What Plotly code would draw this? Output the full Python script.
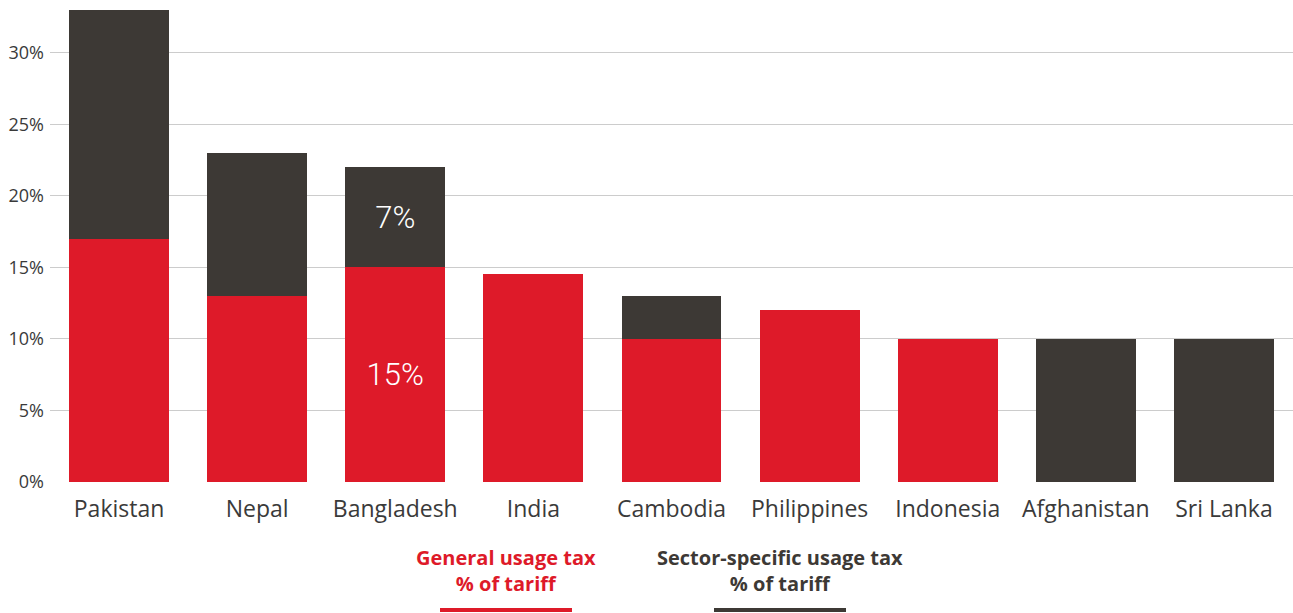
import plotly.graph_objects as go

countries = ["Pakistan", "Nepal", "Bangladesh", "India", "Cambodia",
             "Philippines", "Indonesia", "Afghanistan", "Sri Lanka"]
general_tax = [17, 13, 15, 14.5, 10, 12, 10, 0, 0]
sector_tax = [16, 10, 7, 0, 3, 0, 0, 10, 10]
general_labels = ["", "", "15%", "", "", "", "", "", ""]
sector_labels = ["", "", "7%", "", "", "", "", "", ""]
y_ticks = [0, 5, 10, 15, 20, 25, 30]
y_tick_text = ["0%", "5%", "10%", "15%", "20%", "25%", "30%"]

RED = "#DE1A29"
DARK = "#3D3935"
TEXT = "#3a3a3a"
FONT = "'Open Sans', Lato, sans-serif"
NUM_FONT = "Roboto, sans-serif"
num_font = dict(family=NUM_FONT, size=31, color="white", weight=300)

fig = go.Figure()
fig.add_trace(go.Bar(
    x=countries, y=general_tax, name="General usage tax % of tariff",
    marker=dict(color=RED, line=dict(width=0)),
    text=general_labels, textposition="inside", insidetextanchor="middle",
    textfont=num_font, textangle=0, hoverinfo="x+y",
))
fig.add_trace(go.Bar(
    x=countries, y=sector_tax, name="Sector-specific usage tax % of tariff",
    marker=dict(color=DARK, line=dict(width=0)),
    text=sector_labels, textposition="inside", insidetextanchor="middle",
    textfont=num_font, textangle=0, hoverinfo="x+y",
))

fig.update_layout(
    barmode="stack",
    bargap=0.277,
    width=1293, height=613,
    margin=dict(l=50, r=0, t=4, b=131),
    plot_bgcolor="white", paper_bgcolor="white",
    showlegend=False,
    font=dict(family=FONT, color=TEXT),
    xaxis=dict(
        range=[-0.5, 8.5], showgrid=False, zeroline=False, showline=False,
        ticks="", tickfont=dict(size=23, color=TEXT), ticklabelstandoff=11,
        fixedrange=True,
    ),
    yaxis=dict(
        range=[0, 33.4], tickvals=y_ticks, ticktext=y_tick_text,
        showgrid=True, gridcolor="#cccccc", gridwidth=1.2,
        zeroline=False, showline=False, ticks="",
        tickfont=dict(size=18, color=TEXT), ticklabelstandoff=5,
        fixedrange=True,
    ),
)

# Legend drawn as centred two-line captions with a coloured underline
def px_x(px):
    return (px - 50) / 1243

def px_y(py):
    return -(py - 482) / 478

legend_items = [
    ("General usage tax<br>% of tariff", RED, 506, 440, 572),
    ("Sector-specific usage tax<br>% of tariff", DARK, 780, 714, 846),
]
for text, color, cx, x0, x1 in legend_items:
    fig.add_annotation(
        xref="paper", yref="paper", x=px_x(cx), y=px_y(570),
        text=text, showarrow=False,
        font=dict(family=FONT, size=20, color=color, weight=700),
        align="center", xanchor="center", yanchor="middle",
    )
    fig.add_shape(
        type="line", xref="paper", yref="paper",
        x0=px_x(x0), x1=px_x(x1), y0=px_y(610), y1=px_y(610),
        line=dict(color=color, width=4),
    )

fig.write_html("out.html")
